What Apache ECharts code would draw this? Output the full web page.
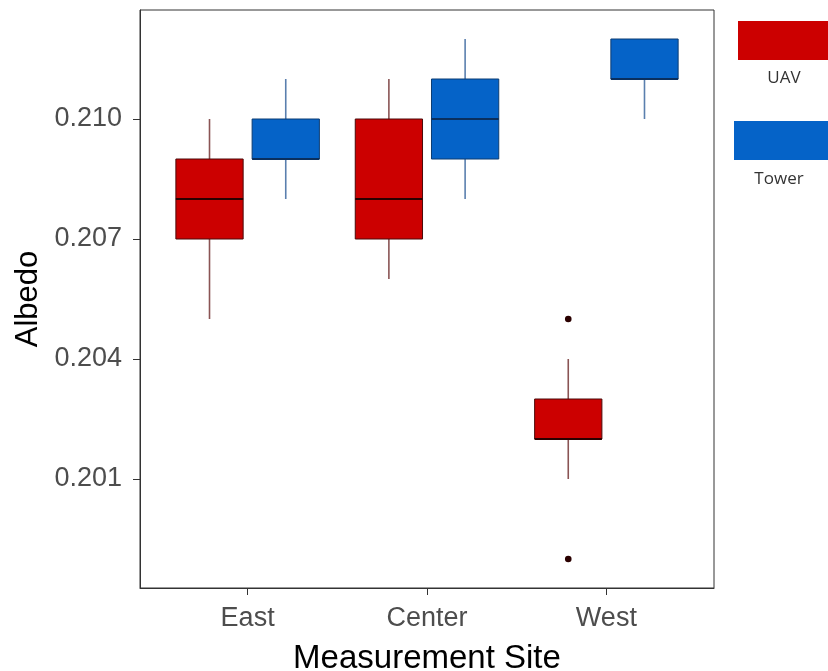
<!DOCTYPE html>
<html>
<head>
<meta charset="utf-8">
<script src="https://cdn.jsdelivr.net/npm/echarts@6/dist/echarts.min.js"></script>
<style>html,body{margin:0;padding:0;background:#fff;}#chart{width:828px;height:671px;}</style>
</head>
<body>
<div id="chart"></div>
<script>
// Data (box stats: low whisker, Q1, median, Q3, high whisker)
const sites = ['East', 'Center', 'West'];
const uavStats = [
  [0.205, 0.207, 0.208, 0.209, 0.210],
  [0.206, 0.207, 0.208, 0.210, 0.211],
  [0.201, 0.202, 0.202, 0.203, 0.204]
];
const towerStats = [
  [0.208, 0.209, 0.209, 0.210, 0.211],
  [0.208, 0.209, 0.210, 0.211, 0.212],
  [0.210, 0.211, 0.211, 0.212, 0.212]
];
const uavOutliers = [['West', 0.205], ['West', 0.199]];
const yTicks = [0.201, 0.204, 0.207, 0.210];
const seriesNames = ['UAV', 'Tower'];

const FONT = '"Liberation Sans", Arial, sans-serif';
const siteIndex = s => sites.indexOf(s) + 1;

function makeRender(offset, width, st) {
  return function (params, api) {
    const x = api.value(0) + offset;
    const low = api.value(1), q1 = api.value(2), med = api.value(3), q3 = api.value(4), high = api.value(5);
    const tl = api.coord([x - width / 2, q3]);
    const br = api.coord([x + width / 2, q1]);
    const cHigh = api.coord([x, high]);
    const cQ3 = api.coord([x, q3]);
    const cQ1 = api.coord([x, q1]);
    const cLow = api.coord([x, low]);
    const mL = api.coord([x - width / 2, med]);
    const mR = api.coord([x + width / 2, med]);
    return {
      type: 'group',
      children: [
        { type: 'line', shape: { x1: cHigh[0], y1: cHigh[1], x2: cQ3[0], y2: cQ3[1] }, style: { stroke: st.whisker, lineWidth: 1.6 } },
        { type: 'line', shape: { x1: cQ1[0], y1: cQ1[1], x2: cLow[0], y2: cLow[1] }, style: { stroke: st.whisker, lineWidth: 1.6 } },
        { type: 'rect', shape: { x: tl[0], y: tl[1], width: br[0] - tl[0], height: br[1] - tl[1] }, style: { fill: st.fill, stroke: st.border, lineWidth: 1 } },
        { type: 'line', shape: { x1: mL[0], y1: mL[1], x2: mR[0], y2: mR[1] }, style: { stroke: st.median, lineWidth: 2 } }
      ]
    };
  };
}

const uavStyle = { fill: '#CC0000', border: '#4a0a0a', whisker: '#8a5454', median: '#2a0000' };
const towerStyle = { fill: '#0563C8', border: '#0c3c72', whisker: '#5a7fae', median: '#0a2f5e' };

const chart = echarts.init(document.getElementById('chart'), null, { renderer: 'canvas' });
const option = {
  animation: false,
  backgroundColor: '#ffffff',
  grid: { left: 140, right: 114, top: 10, bottom: 83, show: true, borderColor: '#333333', borderWidth: 1, backgroundColor: 'transparent', containLabel: false, outerBoundsMode: 'none' },
  xAxis: {
    type: 'value', min: 0.4, max: 3.6,
    name: 'Measurement Site', nameLocation: 'middle', nameGap: 54,
    nameTextStyle: { fontFamily: FONT, fontSize: 33, color: '#000000' },
    axisLine: { show: true, lineStyle: { color: '#333333', width: 1 } },
    axisTick: { show: true, length: 7, lineStyle: { color: '#333333' }, customValues: sites.map((s, i) => i + 1) },
    axisLabel: { fontFamily: FONT, fontSize: 27, color: '#4d4d4d', margin: 17, customValues: sites.map((s, i) => i + 1), formatter: v => sites[Math.round(v) - 1] || '' },
    splitLine: { show: false }
  },
  yAxis: {
    type: 'value', min: 0.198275, max: 0.212725,
    name: 'Albedo', nameLocation: 'middle', nameGap: 94, nameRotate: 90,
    nameTextStyle: { fontFamily: FONT, fontSize: 31, color: '#000000' },
    axisLine: { show: true, lineStyle: { color: '#333333', width: 1 } },
    axisTick: { show: true, length: 7, lineStyle: { color: '#333333' }, customValues: yTicks },
    axisLabel: { fontFamily: FONT, fontSize: 27, color: '#4d4d4d', margin: 18, customValues: yTicks, formatter: v => v.toFixed(3) },
    splitLine: { show: false }
  },
  series: [
    {
      name: seriesNames[0], type: 'custom',
      renderItem: makeRender(-0.2125, 0.375, uavStyle),
      encode: { x: 0, y: [1, 2, 3, 4, 5] },
      data: sites.map((s, i) => [i + 1].concat(uavStats[i])),
      z: 3
    },
    {
      name: seriesNames[1], type: 'custom',
      renderItem: makeRender(0.2125, 0.375, towerStyle),
      encode: { x: 0, y: [1, 2, 3, 4, 5] },
      data: sites.map((s, i) => [i + 1].concat(towerStats[i])),
      z: 3
    },
    {
      name: 'UAV outliers', type: 'custom',
      renderItem: function (params, api) {
        const p = api.coord([api.value(0) - 0.2125, api.value(1)]);
        return { type: 'circle', shape: { cx: p[0], cy: p[1], r: 3.3 }, style: { fill: '#2a0000' } };
      },
      encode: { x: 0, y: 1 },
      data: uavOutliers.map(o => [siteIndex(o[0]), o[1]]),
      z: 4
    }
  ],
  graphic: [
    { type: 'rect', shape: { x: 738, y: 21, width: 95, height: 39 }, style: { fill: '#CC0000' } },
    { type: 'text', x: 784, y: 78, style: { text: seriesNames[0], fontFamily: '"Open Sans", sans-serif', fontSize: 17, fill: '#333333', align: 'center', verticalAlign: 'middle' } },
    { type: 'rect', shape: { x: 734, y: 121, width: 99, height: 39 }, style: { fill: '#0563C8' } },
    { type: 'text', x: 779, y: 179, style: { text: seriesNames[1], fontFamily: '"Open Sans", sans-serif', fontSize: 17, fill: '#333333', align: 'center', verticalAlign: 'middle' } }
  ]
};
chart.setOption(option);
</script>
</body>
</html>
